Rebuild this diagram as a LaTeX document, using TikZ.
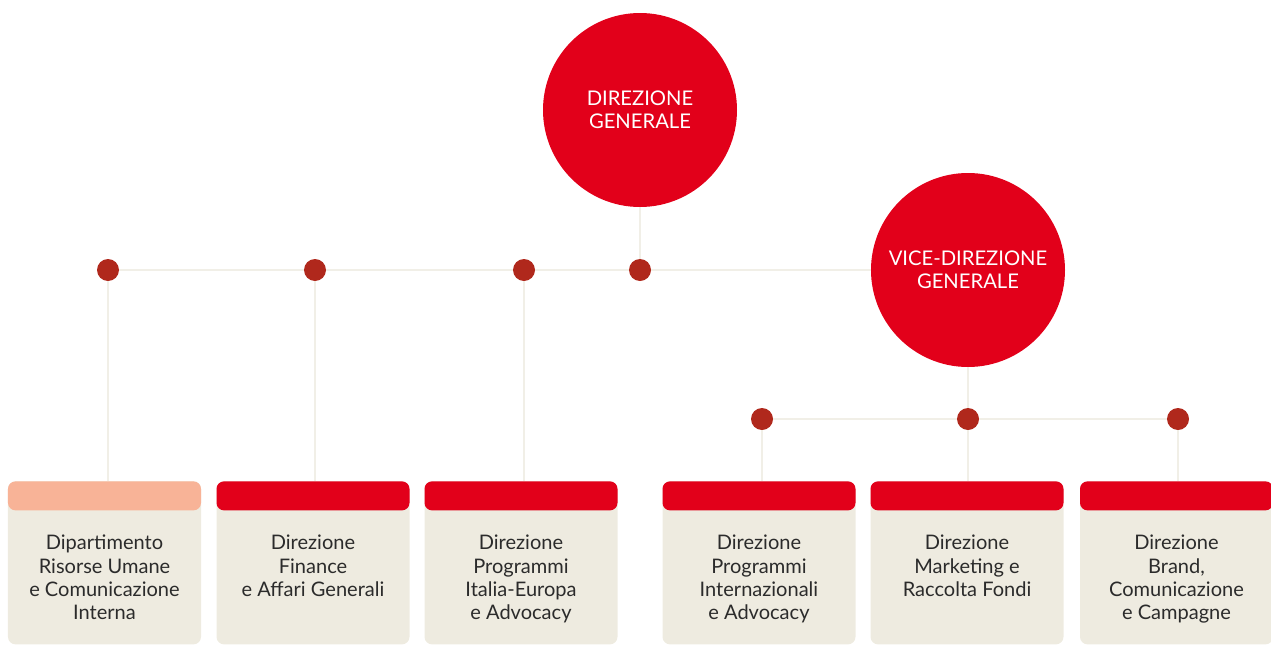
\documentclass[tikz,border=0pt]{standalone}
\usepackage{fontspec}
\setmainfont{Lato}
\usetikzlibrary{positioning}

\definecolor{dirred}{HTML}{E2001A}
\definecolor{dotred}{HTML}{B0281C}
\definecolor{bodybeige}{HTML}{EEEBE0}
\definecolor{salmon}{HTML}{F8B397}
\definecolor{linebeige}{HTML}{F1EFE7}
\definecolor{txtgray}{HTML}{2B2B2B}

\begin{document}
\begin{tikzpicture}[
    node distance = 4.8mm and 4mm,
        dirnode/.style = {circle, fill=dirred, minimum size=38.8mm, inner sep=0pt,
                    text=white, align=center, font=\fontsize{11.5}{13}\selectfont},
        dotnode/.style = {circle, fill=dotred, minimum size=4.4mm, inner sep=0pt},
        body/.style = {rectangle, rounded corners=1.5mm, fill=bodybeige,
                    minimum width=38.6mm, minimum height=32.6mm, anchor=north, inner sep=0pt},
        header/.style = {rectangle, rounded corners=1.5mm, fill=dirred,
                    minimum width=38.6mm, minimum height=5.8mm, anchor=north, inner sep=0pt},
        unit/.style = {align=center, text=txtgray, inner sep=0pt,
                    font=\fontsize{11.4}{13.3}\selectfont},
        link/.style = {draw=linebeige, line width=1.1pt}
        ]

    \useasboundingbox (0,0) rectangle (25.42,-12.9);

    % Direzioni
    \node[dirnode] (dg)  at (12.8,-2.2)  {DIREZIONE\\GENERALE};
    \node[dirnode] (vdg) at (19.36,-5.4) {VICE-DIREZIONE\\GENERALE};

    % Row 1 of dots
    \node[dotnode] (c1) at (2.16,-5.4)  {};
    \node[dotnode] (c2) at (6.3,-5.4)   {};
    \node[dotnode] (c3) at (10.48,-5.4) {};
    \node[dotnode] (c4) at (12.8,-5.4)  {};
    % Row 2 of dots
    \node[dotnode] (c5) at (15.24,-8.38) {};
    \node[dotnode] (c6) at (19.36,-8.38) {};
    \node[dotnode] (c7) at (23.56,-8.38) {};

    % Boxes
    \node[body] (b1) at (2.09,-9.62)  {};
    \node[body] (b2) at (6.26,-9.62)  {};
    \node[body] (b3) at (10.42,-9.62) {};
    \node[body] (b4) at (15.18,-9.62) {};
    \node[body] (b5) at (19.34,-9.62) {};
    \node[body] (b6) at (23.53,-9.62) {};

    \node[header, fill=salmon] (h1) at (b1.north) {};
    \node[header] (h2) at (b2.north) {};
    \node[header] (h3) at (b3.north) {};
    \node[header] (h4) at (b4.north) {};
    \node[header] (h5) at (b5.north) {};
    \node[header] (h6) at (b6.north) {};

    \node[unit, below=of h1] (t1) {Dipartimento\\Risorse Umane\\e Comunicazione\\Interna};
    \node[unit, below=of h2] (t2) {Direzione\\Finance\\e Affari Generali};
    \node[unit, below=of h3] (t3) {Direzione\\Programmi\\Italia-Europa\\e Advocacy};
    \node[unit, below=of h4] (t4) {Direzione\\Programmi\\Internazionali\\e Advocacy};
    \node[unit, below=of h5] (t5) {Direzione\\Marketing e\\Raccolta Fondi};
    \node[unit, below=of h6] (t6) {Direzione\\Brand,\\Comunicazione\\e Campagne};

    % Links
    \draw[link]
        (c1) -- (c2)
        (c2) -- (c3)
        (c3) -- (c4)
        (c4) -- (vdg)
        (dg) -- (c4)
        (vdg) -- (c6)
        (c5) -- (c6)
        (c6) -- (c7)
        (c1) -- (c1 |- h1.north)
        (c2) -- (c2 |- h2.north)
        (c3) -- (c3 |- h3.north)
        (c5) -- (c5 |- h4.north)
        (c6) -- (c6 |- h5.north)
        (c7) -- (c7 |- h6.north);

\end{tikzpicture}
\end{document}
